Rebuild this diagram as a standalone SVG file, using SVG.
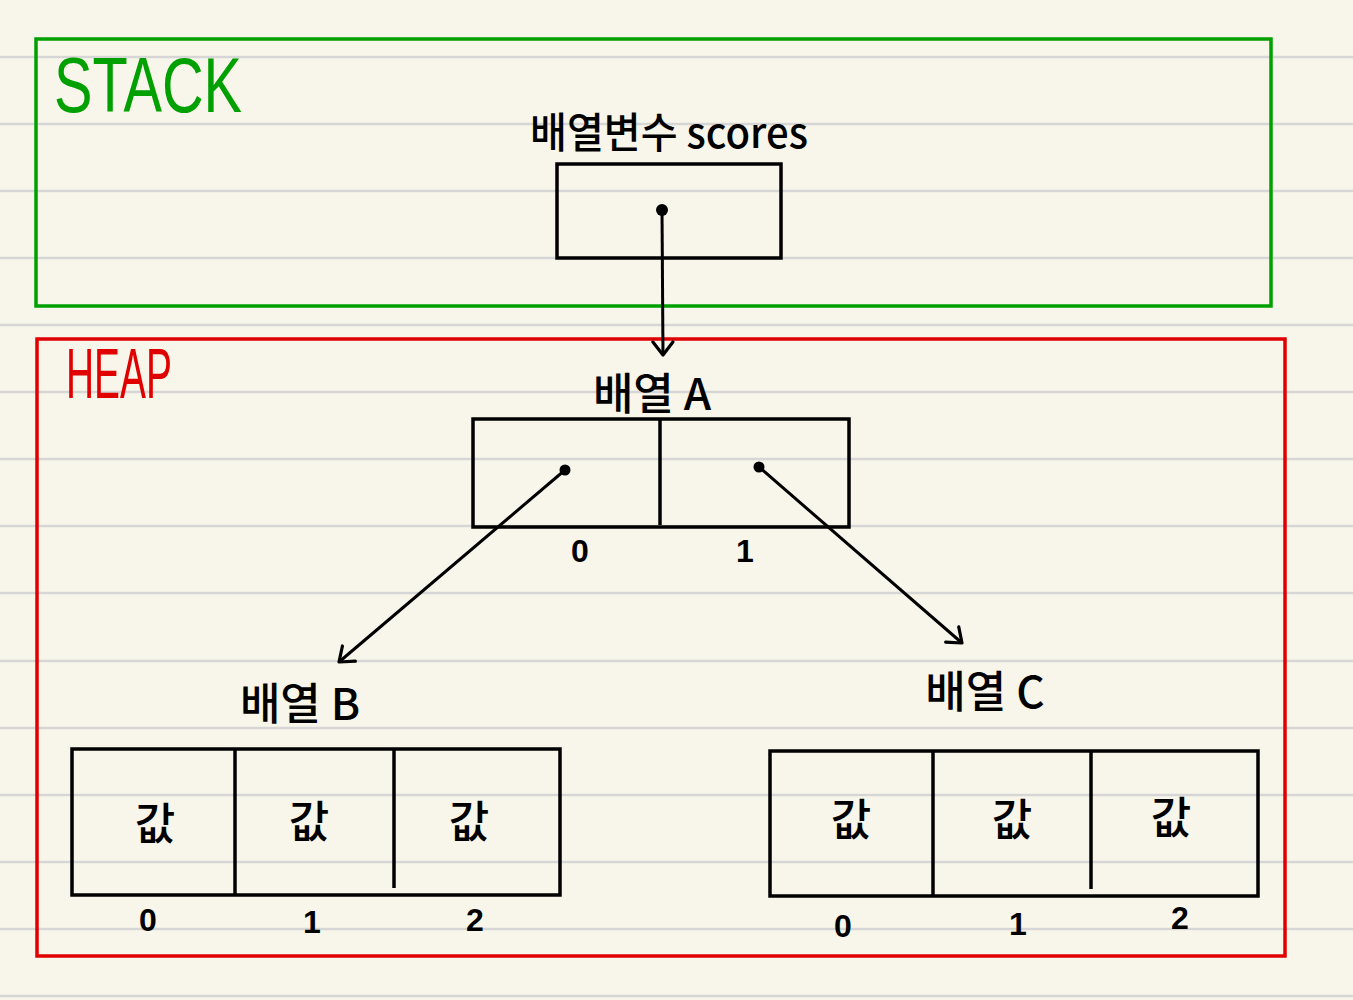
<svg xmlns="http://www.w3.org/2000/svg" width="1353" height="1000" viewBox="0 0 1353 1000">
<defs>
<style>
.rule{stroke:#d6d6d6;stroke-width:2.5}
.box{fill:none;stroke:#000;stroke-width:3.5;stroke-linejoin:miter}
.div{stroke:#000;stroke-width:3.5}
.t{font-family:"Noto Sans CJK KR","Liberation Sans",sans-serif;fill:#000;text-anchor:middle;font-weight:500}
.lab{font-size:44px}
.val{font-size:44px}
.idx{font-family:"Liberation Sans",sans-serif;font-size:32px;font-weight:bold;fill:#000;text-anchor:middle}
.conn{stroke:#000;stroke-width:3;fill:none;marker-end:url(#ah)}
</style>
<marker id="ah" viewBox="-16 -12 18 24" refX="0" refY="0" markerWidth="18" markerHeight="24" markerUnits="userSpaceOnUse" orient="auto">
<path d="M-13,-10 L0,0 L-13,10" fill="none" stroke="#000" stroke-width="3.2" stroke-linecap="round" stroke-linejoin="round"/>
</marker>
</defs>
<rect width="1353" height="1000" fill="#f8f6ea"/>
<g id="rules">
<line class="rule" x1="0" y1="57" x2="1353" y2="57"/>
<line class="rule" x1="0" y1="124" x2="1353" y2="124"/>
<line class="rule" x1="0" y1="191" x2="1353" y2="191"/>
<line class="rule" x1="0" y1="258" x2="1353" y2="258"/>
<line class="rule" x1="0" y1="325" x2="1353" y2="325"/>
<line class="rule" x1="0" y1="392" x2="1353" y2="392"/>
<line class="rule" x1="0" y1="459" x2="1353" y2="459"/>
<line class="rule" x1="0" y1="526" x2="1353" y2="526"/>
<line class="rule" x1="0" y1="593" x2="1353" y2="593"/>
<line class="rule" x1="0" y1="661" x2="1353" y2="661"/>
<line class="rule" x1="0" y1="728" x2="1353" y2="728"/>
<line class="rule" x1="0" y1="795" x2="1353" y2="795"/>
<line class="rule" x1="0" y1="862" x2="1353" y2="862"/>
<line class="rule" x1="0" y1="929" x2="1353" y2="929"/>
<line class="rule" x1="0" y1="996" x2="1353" y2="996"/>
</g>
<g id="stack">
<rect x="36" y="39" width="1235" height="267" fill="none" stroke="#00a000" stroke-width="3.5"/>
<text x="54" y="112" font-family="Liberation Sans,sans-serif" font-size="78" fill="#00a000" textLength="188" lengthAdjust="spacingAndGlyphs">STACK</text>
</g>
<g id="heap">
<rect x="37" y="339" width="1248" height="617" fill="none" stroke="#e00000" stroke-width="3.5"/>
<text x="66" y="398" font-family="Liberation Sans,sans-serif" font-size="70" fill="#e00000" textLength="106" lengthAdjust="spacingAndGlyphs">HEAP</text>
</g>
<g id="scores">
<text class="t" x="530" y="148" font-size="42" text-anchor="start" style="text-anchor:start" textLength="278" lengthAdjust="spacingAndGlyphs">배열변수 scores</text>
<rect class="box" x="557" y="164" width="224" height="94"/>
<circle cx="662" cy="210" r="6" fill="#000"/>
</g>
<g id="arrayA">
<text class="t lab" x="652" y="410">배열 A</text>
<rect class="box" x="473" y="419" width="376" height="108"/>
<line class="div" x1="660" y1="419" x2="660" y2="525"/>
<circle cx="565" cy="470" r="5.5" fill="#000"/>
<circle cx="759" cy="467" r="5.5" fill="#000"/>
<text class="idx" x="580" y="562">0</text>
<text class="idx" x="745" y="562">1</text>
</g>
<g id="arrayB">
<text class="t lab" x="300" y="720">배열 B</text>
<rect class="box" x="72" y="749" width="488" height="146"/>
<line class="div" x1="235" y1="749" x2="235" y2="895"/>
<line class="div" x1="394" y1="749" x2="394" y2="888"/>
<text class="t val" x="155" y="840">값</text>
<text class="t val" x="309" y="838">값</text>
<text class="t val" x="469" y="838">값</text>
<text class="idx" x="148" y="931">0</text>
<text class="idx" x="312" y="933">1</text>
<text class="idx" x="475" y="931">2</text>
</g>
<g id="arrayC">
<text class="t lab" x="985" y="708">배열 C</text>
<rect class="box" x="770" y="751" width="488" height="145"/>
<line class="div" x1="933" y1="751" x2="933" y2="896"/>
<line class="div" x1="1091" y1="751" x2="1091" y2="889"/>
<text class="t val" x="851" y="836">값</text>
<text class="t val" x="1012" y="836">값</text>
<text class="t val" x="1171" y="834">값</text>
<text class="idx" x="843" y="937">0</text>
<text class="idx" x="1018" y="935">1</text>
<text class="idx" x="1180" y="929">2</text>
</g>
<g id="connectors">
<path class="conn" d="M662,210 L663,355"/>
<path class="conn" d="M565,470 L339,662"/>
<path class="conn" d="M759,467 L962,643"/>
</g>
</svg>
